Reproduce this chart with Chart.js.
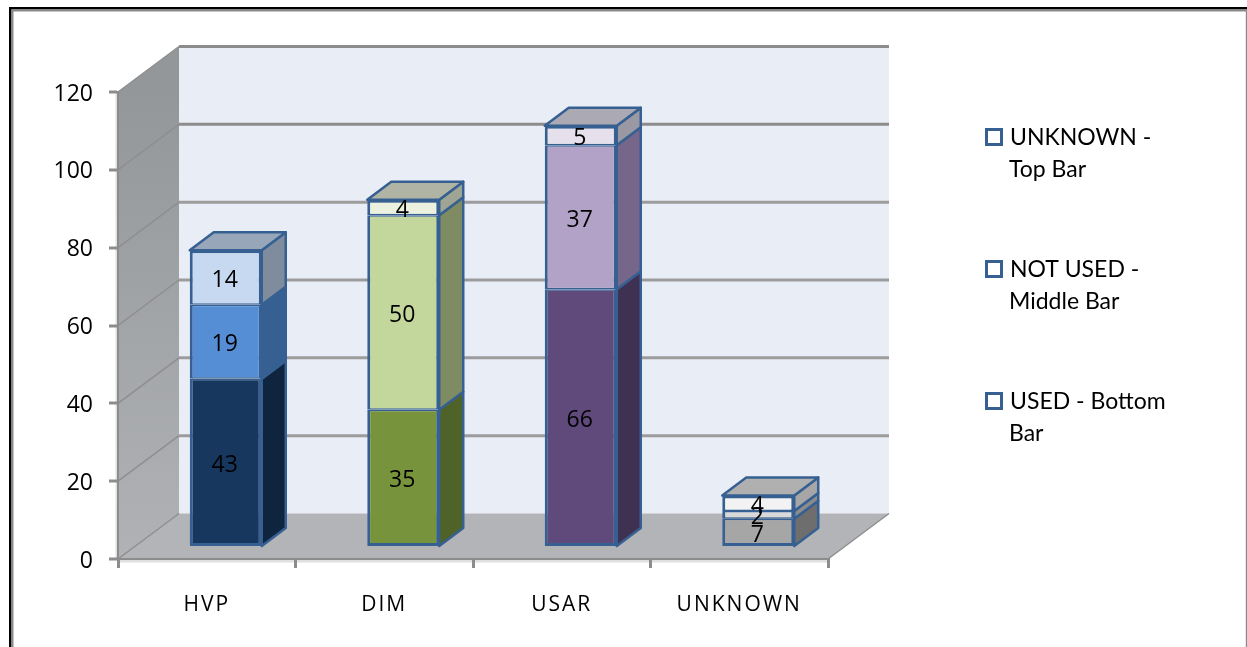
<!DOCTYPE html>
<html>
<head>
<meta charset="utf-8">
<title>Stacked bars</title>
<script src="https://cdn.jsdelivr.net/npm/chart.js@4/dist/chart.umd.min.js"></script>
<style>
  html, body { margin: 0; padding: 0; background: #fff; overflow: hidden; }
  #chart { display: block; }
</style>
</head>
<body>
<canvas id="chart" width="1247" height="647"></canvas>
<script>
// --- data ---
const categories = ['HVP', 'DIM', 'USAR', 'UNKNOWN'];
const usedValues = [43, 35, 66, 7];
const notUsedValues = [19, 50, 37, 2];
const unknownValues = [14, 4, 5, 4];
const yTicks = [0, 20, 40, 60, 80, 100, 120];

const seriesLabels = ['USED - Bottom Bar', 'NOT USED - Middle Bar', 'UNKNOWN - Top Bar'];

// --- colours per stack segment, one per category ---
const usedColors = ['#17375E', '#77933C', '#604A7B', '#A6A6A6'];
const notUsedColors = ['#558ED5', '#C3D69B', '#B3A2C7', '#D9D9D9'];
const unknownColors = ['#C6D9F1', '#EBF1DE', '#E6E0EC', '#F2F2F2'];
const usedSides = ['#0F243E', '#4F6228', '#3F3151', '#6E6E6E'];
const notUsedSides = ['#376092', '#7F8C63', '#76668A', '#8C8C8C'];
const unknownSides = ['#7F8C9E', '#9EA595', '#9A98A2', '#A6A6A6'];
const topColors = ['#97A6B9', '#B0B4A5', '#ABA9B3', '#B0B0B0'];
const edgeColor = '#376092';

// --- 3d look: depth of the walls and of the bars ---
const wallDx = 61, wallDy = 45.5;
const barDx = 24, barDy = 18;
const barShiftX = 19, barShiftY = -13;

function poly(ctx, pts, fill, stroke, width) {
    ctx.beginPath();
    pts.forEach((p, i) => i ? ctx.lineTo(p[0], p[1]) : ctx.moveTo(p[0], p[1]));
    ctx.closePath();
    if (fill) { ctx.fillStyle = fill; ctx.fill(); }
    if (stroke) { ctx.strokeStyle = stroke; ctx.lineWidth = width; ctx.lineJoin = 'round'; ctx.stroke(); }
}

// wraps a scale's label drawing so its text can be tracked / nudged
function tweakLabels(scale, spacing, nudgeY) {
    if (scale._tweaked) return;
    const drawLabels = scale.drawLabels;
    scale.drawLabels = function (area) {
        const ctx = this.ctx;
        ctx.save();
        ctx.letterSpacing = spacing;
        ctx.translate(0, nudgeY);
        drawLabels.call(this, area);
        ctx.restore();
    };
    scale._tweaked = true;
}

// frame, back wall, side wall, floor
const wallsPlugin = {
    id: 'walls',
    beforeDraw(chart) {
        const ctx = chart.ctx, a = chart.chartArea, y = chart.scales.y;
        ctx.save();
        ctx.fillStyle = '#000';
        ctx.fillRect(9, 7, 2.5, 640);
        ctx.fillRect(9, 7, 1238, 2.5);
        ctx.fillStyle = '#8a8a8a';
        ctx.fillRect(11.5, 9.5, 2, 638);
        ctx.fillRect(11.5, 9.5, 1236, 2);
        ctx.fillRect(1245.8, 9.5, 1.2, 638);

        poly(ctx, [[a.left + wallDx, a.top - wallDy], [a.right + wallDx, a.top - wallDy],
                   [a.right + wallDx, a.bottom - wallDy], [a.left + wallDx, a.bottom - wallDy]], '#E9EDF6');
        const g = ctx.createLinearGradient(0, a.top, 0, a.bottom);
        g.addColorStop(0, '#94979A');
        g.addColorStop(1, '#B0B2B5');
        poly(ctx, [[a.left, a.top], [a.left + wallDx, a.top - wallDy],
                   [a.left + wallDx, a.bottom - wallDy], [a.left, a.bottom]], g);
        poly(ctx, [[a.left, a.bottom], [a.right, a.bottom],
                   [a.right + wallDx, a.bottom - wallDy], [a.left + wallDx, a.bottom - wallDy]], '#B2B4B7');

        // light edge just outside the front axes
        ctx.fillStyle = '#DEDFE0';
        ctx.fillRect(a.left - 2.5, a.top, 1.5, a.bottom - a.top);
        ctx.fillRect(a.left, a.bottom + 1, a.right - a.left, 2.5);

        // gridlines across side wall and back wall
        yTicks.forEach(t => {
            const py = y.getPixelForValue(t);
            ctx.strokeStyle = '#8E8E8E';
            ctx.lineWidth = 1.5;
            ctx.beginPath();
            ctx.moveTo(a.left, py);
            ctx.lineTo(a.left + wallDx, py - wallDy);
            ctx.stroke();
            if (t > 0) {
                ctx.lineWidth = 3;
                ctx.strokeStyle = t >= 100 ? '#8C8C8C' : '#9C9C9C';
                ctx.beginPath();
                ctx.moveTo(a.left + wallDx, py - wallDy);
                ctx.lineTo(a.right + wallDx, py - wallDy);
                ctx.stroke();
            }
        });
        ctx.strokeStyle = '#8E8E8E';
        ctx.lineWidth = 1.5;
        ctx.beginPath();
        ctx.moveTo(a.right, a.bottom);
        ctx.lineTo(a.right + wallDx, a.bottom - wallDy);
        ctx.stroke();
        ctx.restore();

        tweakLabels(chart.scales.x, '2px', 0);
        tweakLabels(y, '0px', 2);
    }
};

// side and top faces of each bar, then value labels
const bars3dPlugin = {
    id: 'bars3d',
    beforeDatasetsDraw(chart) {
        const ctx = chart.ctx;
        ctx.save();
        ctx.translate(barShiftX, barShiftY);
        chart.data.datasets.forEach((ds, d) => {
            chart.getDatasetMeta(d).data.forEach((bar, i) => {
                const right = bar.x + bar.width / 2, left = bar.x - bar.width / 2;
                poly(ctx, [[right, bar.y], [right + barDx, bar.y - barDy],
                           [right + barDx, bar.base - barDy], [right, bar.base]],
                     ds.sideColors[i], edgeColor, 2.5);
                if (d === chart.data.datasets.length - 1) {
                    poly(ctx, [[left, bar.y], [left + barDx, bar.y - barDy],
                               [right + barDx, bar.y - barDy], [right, bar.y]],
                         topColors[i], edgeColor, 2.5);
                }
            });
        });
    },
    afterDatasetsDraw(chart) {
        const ctx = chart.ctx;
        ctx.font = '23px "Open Sans"';
        ctx.fillStyle = '#000';
        ctx.textAlign = 'center';
        ctx.textBaseline = 'middle';
        chart.data.datasets.forEach((ds, d) => {
            chart.getDatasetMeta(d).data.forEach((bar, i) => {
                ctx.fillText(ds.data[i], bar.x - 1, (bar.y + bar.base) / 2 + 3);
            });
        });
        ctx.restore();
    }
};

// legend drawn beside the plot, wrapped the same way as the reference
const legendLines = [['UNKNOWN -', 'Top Bar'], ['NOT USED -', 'Middle Bar'], ['USED - Bottom', 'Bar']];
const sideLegendPlugin = {
    id: 'sideLegend',
    afterDraw(chart) {
        const ctx = chart.ctx;
        ctx.save();
        legendLines.forEach((lines, i) => {
            const top = 129 + i * 132;
            ctx.fillStyle = '#fff';
            ctx.strokeStyle = edgeColor;
            ctx.lineWidth = 3;
            ctx.fillRect(986.5, top + 0.5, 15, 15);
            ctx.strokeRect(986.5, top + 0.5, 15, 15);
            ctx.fillStyle = '#000';
            ctx.font = '23px Lato';
            ctx.textAlign = 'left';
            ctx.textBaseline = 'alphabetic';
            lines.forEach((line, j) => {
                ctx.fillText(line, j === 0 ? 1010 : 1009, top + 16 + j * 32);
            });
        });
        ctx.restore();
    }
};

// adjacent segments each carry half of the line between them
function segments(label, values, colors, sides, topEdge, bottomEdge) {
    return {
        label: label,
        data: values,
        backgroundColor: colors,
        sideColors: sides,
        borderColor: edgeColor,
        borderWidth: { left: 3, right: 3, top: topEdge, bottom: bottomEdge },
        borderSkipped: false,
        barPercentage: 0.4056,
        categoryPercentage: 1
    };
}

new Chart(document.getElementById('chart'), {
    type: 'bar',
    data: {
        labels: categories,
        datasets: [
            segments(seriesLabels[0], usedValues, usedColors, usedSides, 1.5, 3),
            segments(seriesLabels[1], notUsedValues, notUsedColors, notUsedSides, 1.5, 1.5),
            segments(seriesLabels[2], unknownValues, unknownColors, unknownSides, 3, 1.5)
        ]
    },
    options: {
        responsive: false,
        animation: false,
        devicePixelRatio: 1,
        layout: { padding: { top: 92, right: 419, bottom: 0, left: 0 } },
        plugins: { legend: { display: false }, tooltip: { enabled: false } },
        scales: {
            x: {
                stacked: true,
                afterFit(scale) { scale.height = 88; },
                grid: { drawOnChartArea: false, color: '#8C8C8C', lineWidth: 3, tickLength: 9 },
                border: { color: '#8C8C8C', width: 2 },
                ticks: { color: '#000', font: { family: 'Open Sans', size: 21 }, padding: 24, maxRotation: 0 }
            },
            y: {
                stacked: true,
                min: 0,
                max: 120,
                afterFit(scale) { scale.width = 118; },
                // lineWidth 0 keeps the stack base exactly on zero, the ticks keep their own width
                grid: { drawOnChartArea: false, color: '#8C8C8C', lineWidth: 0, tickWidth: 3, tickLength: 9 },
                border: { color: '#8C8C8C', width: 2 },
                ticks: { color: '#000', font: { family: 'Open Sans', size: 23 }, padding: 16, stepSize: 20 }
            }
        }
    },
    plugins: [wallsPlugin, bars3dPlugin, sideLegendPlugin]
});
</script>
</body>
</html>
